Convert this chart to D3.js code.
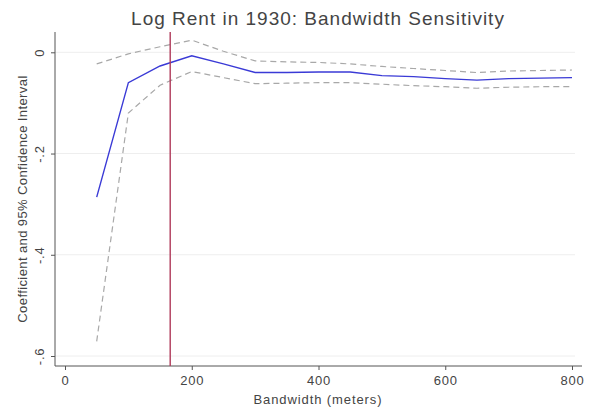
<!DOCTYPE html>
<html>
<head>
<meta charset="utf-8">
<script src="https://cdn.jsdelivr.net/npm/d3@7"></script>
<style>
  body { margin: 0; background: #fff; }
  text { font-family: "Liberation Sans", Arial, sans-serif; }
</style>
</head>
<body>
<svg width="596" height="413"></svg>
<script>
// bandwidth estimates
var bandwidth = [50, 100, 150, 200, 250, 300, 350, 400, 450, 500, 550, 600, 650, 700, 750, 800];
var coef  = [-0.286, -0.060, -0.027, -0.007, -0.023, -0.040, -0.040, -0.039, -0.039, -0.046, -0.048, -0.052, -0.055, -0.052, -0.051, -0.050];
var upper = [-0.023, -0.003, 0.011, 0.024, 0.002, -0.017, -0.019, -0.020, -0.023, -0.028, -0.032, -0.036, -0.040, -0.037, -0.036, -0.035];
var lower = [-0.571, -0.120, -0.065, -0.038, -0.050, -0.062, -0.061, -0.060, -0.060, -0.063, -0.066, -0.068, -0.071, -0.069, -0.068, -0.068];
var cutoff = 166;
var xTicks = [0, 200, 400, 600, 800];
var yTicks = [0, -0.2, -0.4, -0.6];

var svg = d3.select("svg"),
    margin = {top: 32, right: 14, bottom: 47, left: 55},
    width = +svg.attr("width") - margin.left - margin.right,
    height = +svg.attr("height") - margin.top - margin.bottom;

var x = d3.scaleLinear().domain([0, 800]).range([10, 517]),
    y = d3.scaleLinear().domain([-0.6, 0]).range([324, 20.3]);

var g = svg.append("g")
    .attr("transform", "translate(" + margin.left + "," + margin.top + ")");

// grid
g.selectAll(".grid").data(yTicks).enter().append("line")
    .attr("x1", 0).attr("x2", 520)
    .attr("y1", function(d) { return y(d); })
    .attr("y2", function(d) { return y(d); })
    .attr("stroke", "#eeeeee")
    .attr("stroke-width", 1);

var xAxis = d3.axisBottom(x).tickValues(xTicks).tickSize(4).tickSizeOuter(0),
    yAxis = d3.axisLeft(y).tickValues(yTicks).tickSize(4).tickSizeOuter(0)
      .tickFormat(function(d) { return d === 0 ? "0" : "-" + d3.format(".1f")(-d).replace("0.", "."); });

var gx = g.append("g")
    .attr("transform", "translate(0," + height + ")")
    .call(xAxis);
gx.select(".domain").attr("d", "M0,0H" + width);

var gy = g.append("g").call(yAxis);
gy.select(".domain").attr("d", "M0,0V" + height);

[gx, gy].forEach(function(a) {
  a.select(".domain").attr("stroke", "#555");
  a.selectAll(".tick line").attr("stroke", "#555");
  a.selectAll(".tick text").attr("fill", "#444")
      .style("font-size", "13px").style("letter-spacing", "0.7px");
});
gx.selectAll(".tick text").attr("dy", "0.95em");
gy.selectAll(".tick text")
    .attr("x", 0).attr("dy", 0)
    .attr("text-anchor", "middle")
    .attr("transform", "translate(-11,0) rotate(-90)");

var line = function(vals) {
  return d3.line()
    .x(function(d, i) { return x(bandwidth[i]); })
    .y(function(d) { return y(d); })(vals);
};

g.append("path").attr("d", line(upper))
    .attr("fill", "none").attr("stroke", "#a8a8a8")
    .attr("stroke-width", 1.2).attr("stroke-dasharray", "6,4");
g.append("path").attr("d", line(lower))
    .attr("fill", "none").attr("stroke", "#a8a8a8")
    .attr("stroke-width", 1.2).attr("stroke-dasharray", "6,4");
g.append("path").attr("d", line(coef))
    .attr("fill", "none").attr("stroke", "#3a3ad6")
    .attr("stroke-width", 1.4);

g.append("line")
    .attr("x1", x(cutoff)).attr("x2", x(cutoff))
    .attr("y1", 0).attr("y2", height)
    .attr("stroke", "#b03a5a").attr("stroke-width", 1.4);

// titles
svg.append("text")
    .attr("x", 318).attr("y", 25)
    .attr("text-anchor", "middle")
    .attr("fill", "#444")
    .style("font-size", "19px").style("letter-spacing", "1px")
    .text("Log Rent in 1930: Bandwidth Sensitivity");

svg.append("text")
    .attr("x", 318).attr("y", 404)
    .attr("text-anchor", "middle")
    .attr("fill", "#444")
    .style("font-size", "13px").style("letter-spacing", "0.9px")
    .text("Bandwidth (meters)");

svg.append("text")
    .attr("transform", "translate(27," + (margin.top + height / 2) + ") rotate(-90)")
    .attr("text-anchor", "middle")
    .attr("fill", "#444")
    .style("font-size", "13px").style("letter-spacing", "0.4px")
    .text("Coefficient and 95% Confidence Interval");
</script>
</body>
</html>
